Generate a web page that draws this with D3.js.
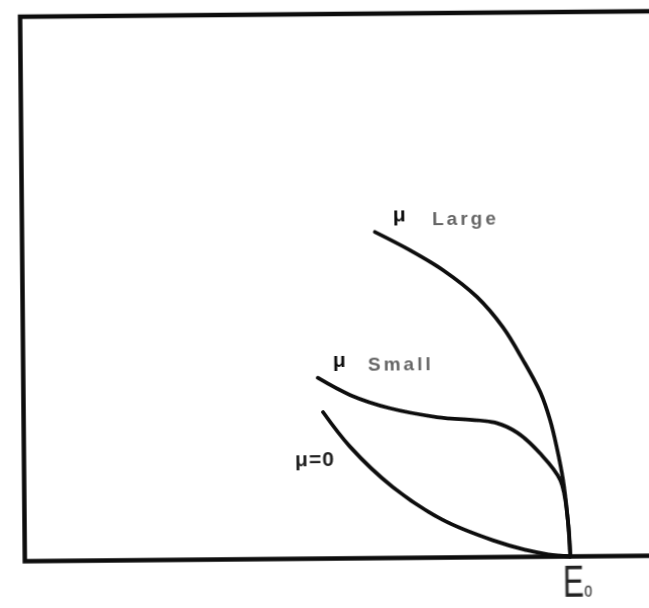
<!DOCTYPE html>
<html>
<head>
<meta charset="utf-8">
<script src="https://cdn.jsdelivr.net/npm/d3@7/dist/d3.min.js"></script>
<style>
  body { margin: 0; background: #fff; }
  svg { display: block; }
</style>
</head>
<body>
<script>
// curve data: x = E / E0, y = relative height in the frame (0 = bottom axis)
var largeX = [0.647, 0.711, 0.771, 0.833, 0.880, 0.916, 0.948, 0.965, 0.977, 0.988, 0.996, 1.0];
var largeY = [0.599, 0.565, 0.528, 0.478, 0.422, 0.362, 0.301, 0.251, 0.200, 0.140, 0.067, 0.0];

var smallX = [0.540, 0.599, 0.672, 0.758, 0.868, 0.905, 0.946, 0.983, 0.996, 1.0];
var smallY = [0.332, 0.300, 0.275, 0.258, 0.246, 0.228, 0.190, 0.140, 0.067, 0.0];

var zeroX = [0.549, 0.598, 0.676, 0.767, 0.858, 0.921, 0.960, 1.0];
var zeroY = [0.269, 0.205, 0.130, 0.069, 0.031, 0.012, 0.004, 0.0];

var width = 649, height = 608;

var svg = d3.select("body")
            .append("svg")
            .attr("width", width)
            .attr("height", height);

// soft look of the scanned figure
var defs = svg.append("defs");
defs.append("filter")
    .attr("id", "soft")
    .append("feGaussianBlur")
    .attr("stdDeviation", 0.6);

// the scan is slightly rotated
var g = svg.append("g")
            .attr("transform", "rotate(-0.5, 335, 290)")
            .attr("filter", "url(#soft)");

var x = d3.scaleLinear().domain([0, 1]).range([22.5, 568]);
var y = d3.scaleLinear().domain([0, 1]).range([558.5, 14]);

// frame: left side, top and bottom running off the right edge
g.append("path")
    .attr("d", "M" + x(1.25) + "," + y(1) + "H" + x(0) + "V" + y(0) + "H" + x(1.25))
    .attr("fill", "none")
    .attr("stroke", "#111")
    .attr("stroke-width", 4.5);

var line = d3.line()
            .x(function(d) { return x(d[0]); })
            .y(function(d) { return y(d[1]); })
            .curve(d3.curveCatmullRom.alpha(0.5));

var curves = [
    d3.zip(largeX, largeY),
    d3.zip(smallX, smallY),
    d3.zip(zeroX, zeroY)
];

g.selectAll("path.curve")
    .data(curves)
    .enter()
    .append("path")
    .attr("class", "curve")
    .attr("d", line)
    .attr("fill", "none")
    .attr("stroke", "#111")
    .attr("stroke-width", 3.8)
    .attr("stroke-linecap", "round");

// labels
var font = "'Liberation Sans', Arial, sans-serif";

function mu(xv, yv, size) {
    g.append("text")
        .attr("x", x(xv))
        .attr("y", y(yv))
        .attr("font-family", font)
        .attr("font-weight", "bold")
        .attr("font-size", size)
        .attr("fill", "#111")
        .text("\u03bc");
}

function word(xv, yv, txt) {
    g.append("text")
        .attr("x", x(xv))
        .attr("y", y(yv))
        .attr("font-family", font)
        .attr("font-weight", "bold")
        .attr("font-size", 19)
        .attr("letter-spacing", 3)
        .attr("fill", "#666")
        .text(txt);
}

mu(0.680, 0.618, 21);
word(0.752, 0.611, "Large");

mu(0.568, 0.351, 21);
word(0.632, 0.344, "Small");

g.append("text")
    .attr("x", x(0.497))
    .attr("y", y(0.170))
    .attr("font-family", font)
    .attr("font-weight", "bold")
    .attr("font-size", 21)
    .attr("letter-spacing", 1)
    .attr("fill", "#222")
    .text("\u03bc=0");

// E0 under the meeting point
var e0 = g.append("text")
    .attr("transform", "translate(" + x(0.986) + "," + y(-0.074) + ") scale(0.72,1)")
    .attr("font-family", font)
    .attr("font-size", 44)
    .attr("fill", "#222");
e0.append("tspan").text("E");
e0.append("tspan")
    .attr("font-size", 20)
    .text("o");
</script>
</body>
</html>
